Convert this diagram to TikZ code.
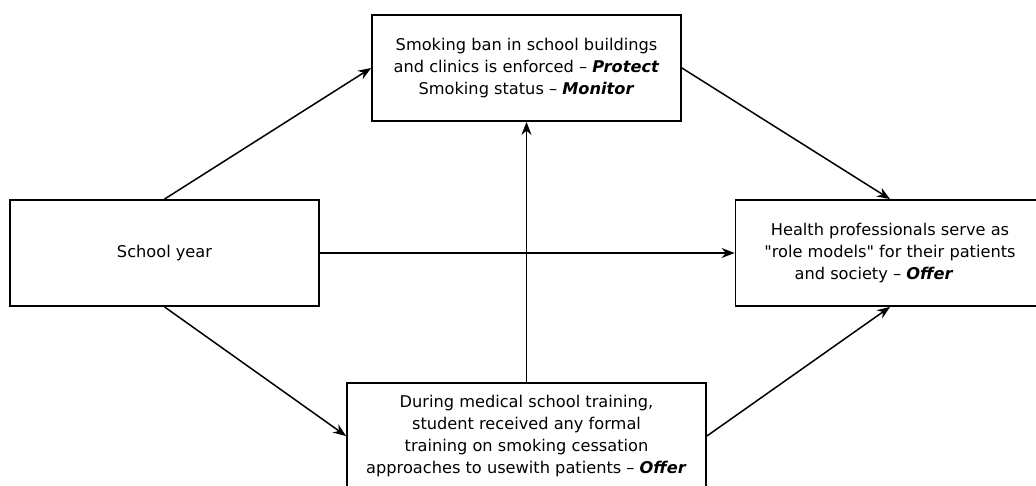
\documentclass[tikz,border=0pt]{standalone}
\usepackage{fontspec}
\setmainfont{DejaVu Sans}[Ligatures=TeXOff]
\usepackage{tikz}
\usetikzlibrary{positioning}
\usetikzlibrary{arrows.meta}
\newcommand{\mpower}[1]{\textbf{\textit{#1}}}

\begin{document}
\begin{tikzpicture}[-{Stealth[length=13pt,width=10pt]}, x=1pt, y=1pt, line width=1.5pt, node distance = 185pt and 362pt, on grid, box/.style ={rectangle, draw, line width=1.8pt, text = black, align=center, minimum width=309pt, minimum height=106pt, font=\fontsize{16.2}{21.7}\selectfont}]
		\useasboundingbox (0,0) rectangle (1036,-486);
		\node[box] (year) at (164.5,-253) {School year};
		\node[box] (ban) [above right = of year] {Smoking ban in school buildings\\and clinics is enforced – \mpower{Protect}\\Smoking status – \mpower{Monitor}};
		\node[box] (model) [right = 725.5pt of year] {Health professionals serve as\\"role models" for their patients\\and society – \mpower{Offer}\hspace*{32pt}};
		\node[box, minimum width=359pt] (train) [below right = 183pt and 362pt of year] {During medical school training,\\student received any formal\\training on smoking cessation\\approaches to usewith patients – \mpower{Offer}};
		\path (year.north) edge (ban.west)
		(year.east) edge (model.west)
		(year.south) edge (train.west)
		(ban.east) edge (model.north)
		(train.north) edge (ban.south)
		(train.east) edge (model.south);
\end{tikzpicture}
\end{document}
